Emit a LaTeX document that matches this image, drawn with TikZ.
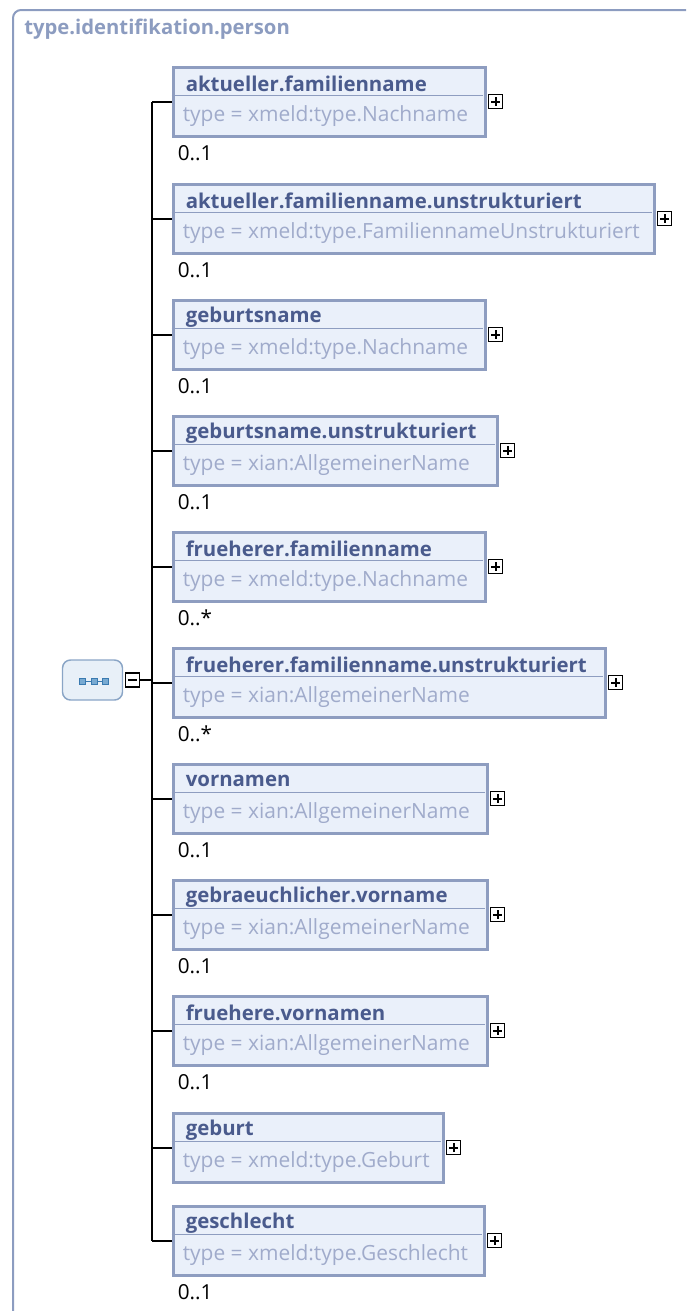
\documentclass[tikz,border=0pt]{standalone}
\usepackage{fontspec}
\setmainfont{Open Sans}
\usetikzlibrary{positioning,calc}
\definecolor{FrameBlue}{RGB}{140,156,192}
\definecolor{BoxFill}{RGB}{234,240,250}
\definecolor{BoxLine}{RGB}{142,157,192}
\definecolor{TitleBlue}{RGB}{74,91,141}
\definecolor{TypeGrey}{RGB}{160,171,203}
\definecolor{SeqFill}{RGB}{232,240,248}
\definecolor{SeqLine}{RGB}{138,165,198}
\definecolor{SeqDot}{RGB}{58,122,176}
\definecolor{SeqDotFill}{RGB}{120,170,210}
\tikzset{
  frame/.style={draw=FrameBlue,line width=1.5pt,rounded corners=6pt},
  ptitle/.style={anchor=west,inner sep=0pt,font=\bfseries\fontsize{15.2}{17}\selectfont,text=FrameBlue},
  elem/.style={draw=BoxLine,line width=2.25pt,fill=BoxFill,anchor=north west,inner sep=0pt,minimum height=52pt},
  sep/.style={draw=BoxLine,line width=1.1pt},
  ename/.style={anchor=west,inner sep=0pt,font=\bfseries\fontsize{15.3}{17}\selectfont,text=TitleBlue},
  etype/.style={anchor=west,inner sep=0pt,font=\fontsize{15.7}{18}\selectfont,text=TypeGrey},
  card/.style={anchor=west,inner sep=0pt,font=\fontsize{15.5}{18}\selectfont},
  expand/.style={draw,line width=1.2pt,fill=white,minimum size=10.5pt,inner sep=0pt,
    path picture={\draw[line width=1.5pt] (path picture bounding box.center) +(-4.5,0) -- +(4.5,0)
      (path picture bounding box.center) +(0,-4.5) -- +(0,4.5);}},
  collapse/.style={draw,line width=1.2pt,fill=white,minimum size=10.5pt,inner sep=0pt,
    path picture={\draw[line width=1.5pt] (path picture bounding box.center) +(-4.5,0) -- +(4.5,0);}},
  seq/.style={draw=SeqLine,line width=1.1pt,fill=SeqFill,rounded corners=6pt,minimum width=45pt,minimum height=30pt,inner sep=0pt},
  conn/.style={line width=1.5pt}
}
\begin{document}
\begin{tikzpicture}[x=0.75pt,y=-0.75pt]
  \useasboundingbox (0,0) rectangle (686,1311);
  \draw[frame] (13,1311) -- (13,10) -- (686,10);
  \node[ptitle] (ptitle) at (24,29) {type.identifikation.person};

  % elements of the sequence
  \foreach \n/\top/\w/\name/\type/\card in {
    e1/64/315/aktueller.familienname/type = xmeld:type.Nachname/0..1,
    e2/181/484/aktueller.familienname.unstrukturiert/type = xmeld:type.FamiliennameUnstrukturiert/0..1,
    e3/297/315/geburtsname/type = xmeld:type.Nachname/0..1,
    e4/413/327/geburtsname.unstrukturiert/type = xian:AllgemeinerName/0..1,
    e5/529/315/frueherer.familienname/type = xmeld:type.Nachname/0..*,
    e6/645/435/frueherer.familienname.unstrukturiert/type = xian:AllgemeinerName/0..*,
    e7/761/317/vornamen/type = xian:AllgemeinerName/0..1,
    e8/877/317/gebraeuchlicher.vorname/type = xian:AllgemeinerName/0..1,
    e9/993/317/fruehere.vornamen/type = xian:AllgemeinerName/0..1,
    e11/1203/314/geschlecht/type = xmeld:type.Geschlecht/0..1}{
    \node[elem,minimum width={0.75pt*(\w-3)}] (\n) at (171.5,\top+1.5) {};
    \draw[sep] ($(\n.north west)+(0,30)$) -- ($(\n.north east)+(-4,30)$);
    \node[ename] at ($(\n.north west)+(14,18.5)$) {\name};
    \node[etype] at ($(\n.north west)+(11,50.5)$) {\type};
    \node[expand] (\n p) at ($(\n.east)+(9,0)$) {};
    \node[card] (\n c) at ($(\n.south west)+(6,15)$) {\card};
  }
  \node[elem,minimum width={0.75pt*270}] (e10) at (171.5,1111.5) {};
  \draw[sep] ($(e10.north west)+(0,30)$) -- ($(e10.north east)+(-4,30)$);
  \node[ename] at ($(e10.north west)+(14,18.5)$) {geburt};
  \node[etype] at ($(e10.north west)+(11,50.5)$) {type = xmeld:type.Geburt};
  \node[expand] (e10p) at ($(e10.east)+(9,0)$) {};

  % sequence compositor
  \node[seq] (seq) at (92.5,680) {};
  \draw[SeqDot,line width=0.75pt] ($(seq.center)+(-10,1)$) -- ($(seq.center)+(13,1)$);
  \foreach \dx in {-10,1.5,13}
    \draw[SeqDot,fill=SeqDotFill,line width=0.6pt] ($(seq.center)+(\dx-3,-2)$) rectangle +(6,6);
  \node[collapse] (seqm) at (132.5,680) {};

  \coordinate (trunk) at (152,0);
  \draw[conn] (seqm.east) -- (seqm.east -| trunk);
  \draw[conn] (e1.west -| trunk) -- (e11.west -| trunk);
  \foreach \n in {e1,e2,e3,e4,e5,e6,e7,e8,e9,e10,e11}
    \draw[conn] (\n.west -| trunk) -- (\n.west);
\end{tikzpicture}
\end{document}
